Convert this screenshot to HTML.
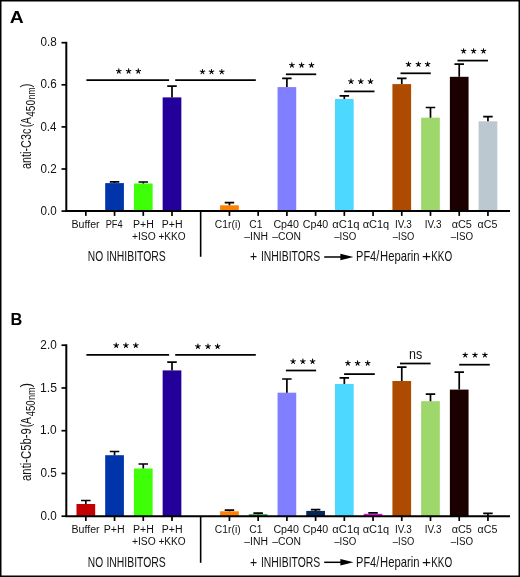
<!DOCTYPE html><html><head><meta charset="utf-8"><style>
html,body{margin:0;padding:0;background:#fff;}
svg{display:block;will-change:transform;}
text{font-family:"Liberation Sans",sans-serif;fill:#111;}
.tk{font-size:12.4px;}
.xl{font-size:10px;}
.gl{font-size:14.8px;}
.pl{font-size:17.4px;font-weight:bold;fill:#000;}
.yl{font-size:15.5px;}
.ys{font-size:11.5px;}
.yd{font-size:12.4px;}
.ns{font-size:14.5px;}
</style></head><body><svg width="520" height="577" viewBox="0 0 520 577"><rect x="0" y="0" width="520" height="577" fill="#000"/>
<rect x="1.5" y="1.5" width="517" height="574" fill="#fff"/>
<text x="9.7" y="22.8" class="pl" textLength="14.0" lengthAdjust="spacingAndGlyphs">A</text>
<rect x="105.20" y="183.10" width="18.70" height="28.00" fill="#0034aa"/>
<path d="M114.55 183.10L114.55 181.80M109.80 181.80L119.30 181.80" stroke="#000" stroke-width="1.7" fill="none"/>
<rect x="133.93" y="183.50" width="18.70" height="27.60" fill="#3eff08"/>
<path d="M143.28 183.50L143.28 182.00M138.53 182.00L148.03 182.00" stroke="#000" stroke-width="1.7" fill="none"/>
<rect x="162.65" y="97.40" width="18.70" height="113.70" fill="#220099"/>
<path d="M172.00 97.40L172.00 86.20M167.25 86.20L176.75 86.20" stroke="#000" stroke-width="1.7" fill="none"/>
<rect x="220.09" y="205.30" width="18.70" height="5.80" fill="#ff7f00"/>
<path d="M229.44 205.30L229.44 202.70M224.69 202.70L234.19 202.70" stroke="#000" stroke-width="1.7" fill="none"/>
<rect x="277.54" y="87.10" width="18.70" height="124.00" fill="#7f7fff"/>
<path d="M286.89 87.10L286.89 78.40M282.14 78.40L291.64 78.40" stroke="#000" stroke-width="1.7" fill="none"/>
<rect x="334.98" y="99.00" width="18.70" height="112.10" fill="#4dd8ff"/>
<path d="M344.33 99.00L344.33 95.90M339.58 95.90L349.08 95.90" stroke="#000" stroke-width="1.7" fill="none"/>
<rect x="392.42" y="84.10" width="18.70" height="127.00" fill="#ad4b00"/>
<path d="M401.77 84.10L401.77 78.40M397.02 78.40L406.52 78.40" stroke="#000" stroke-width="1.7" fill="none"/>
<rect x="421.14" y="117.70" width="18.70" height="93.40" fill="#9ed86c"/>
<path d="M430.49 117.70L430.49 107.50M425.74 107.50L435.24 107.50" stroke="#000" stroke-width="1.7" fill="none"/>
<rect x="449.87" y="76.80" width="18.70" height="134.30" fill="#1a0000"/>
<path d="M459.22 76.80L459.22 64.20M454.47 64.20L463.97 64.20" stroke="#000" stroke-width="1.7" fill="none"/>
<rect x="478.59" y="121.30" width="18.70" height="89.80" fill="#bcc8d0"/>
<path d="M487.94 121.30L487.94 116.70M483.19 116.70L492.69 116.70" stroke="#000" stroke-width="1.7" fill="none"/>
<line x1="86.40" y1="80.20" x2="169.10" y2="80.20" stroke="#000" stroke-width="1.75"/>
<path d="M118.80 71.20L118.80 68.80M118.80 71.20L121.08 70.46M118.80 71.20L120.21 73.14M118.80 71.20L117.39 73.14M118.80 71.20L116.52 70.46" stroke="#000" stroke-width="1.05" fill="none" stroke-linecap="round"/><circle cx="118.80" cy="71.35" r="0.9" fill="#000"/>
<path d="M128.60 71.20L128.60 68.80M128.60 71.20L130.88 70.46M128.60 71.20L130.01 73.14M128.60 71.20L127.19 73.14M128.60 71.20L126.32 70.46" stroke="#000" stroke-width="1.05" fill="none" stroke-linecap="round"/><circle cx="128.60" cy="71.35" r="0.9" fill="#000"/>
<path d="M138.30 71.20L138.30 68.80M138.30 71.20L140.58 70.46M138.30 71.20L139.71 73.14M138.30 71.20L136.89 73.14M138.30 71.20L136.02 70.46" stroke="#000" stroke-width="1.05" fill="none" stroke-linecap="round"/><circle cx="138.30" cy="71.35" r="0.9" fill="#000"/>
<line x1="175.20" y1="80.10" x2="255.80" y2="80.10" stroke="#000" stroke-width="1.75"/>
<path d="M202.50 71.80L202.50 69.40M202.50 71.80L204.78 71.06M202.50 71.80L203.91 73.74M202.50 71.80L201.09 73.74M202.50 71.80L200.22 71.06" stroke="#000" stroke-width="1.05" fill="none" stroke-linecap="round"/><circle cx="202.50" cy="71.95" r="0.9" fill="#000"/>
<path d="M211.50 71.80L211.50 69.40M211.50 71.80L213.78 71.06M211.50 71.80L212.91 73.74M211.50 71.80L210.09 73.74M211.50 71.80L209.22 71.06" stroke="#000" stroke-width="1.05" fill="none" stroke-linecap="round"/><circle cx="211.50" cy="71.95" r="0.9" fill="#000"/>
<path d="M221.80 71.80L221.80 69.40M221.80 71.80L224.08 71.06M221.80 71.80L223.21 73.74M221.80 71.80L220.39 73.74M221.80 71.80L219.52 71.06" stroke="#000" stroke-width="1.05" fill="none" stroke-linecap="round"/><circle cx="221.80" cy="71.95" r="0.9" fill="#000"/>
<line x1="285.90" y1="74.30" x2="316.20" y2="74.30" stroke="#000" stroke-width="1.75"/>
<path d="M291.90 65.15L291.90 62.75M291.90 65.15L294.18 64.41M291.90 65.15L293.31 67.09M291.90 65.15L290.49 67.09M291.90 65.15L289.62 64.41" stroke="#000" stroke-width="1.05" fill="none" stroke-linecap="round"/><circle cx="291.90" cy="65.30" r="0.9" fill="#000"/>
<path d="M301.60 65.15L301.60 62.75M301.60 65.15L303.88 64.41M301.60 65.15L303.01 67.09M301.60 65.15L300.19 67.09M301.60 65.15L299.32 64.41" stroke="#000" stroke-width="1.05" fill="none" stroke-linecap="round"/><circle cx="301.60" cy="65.30" r="0.9" fill="#000"/>
<path d="M311.50 65.15L311.50 62.75M311.50 65.15L313.78 64.41M311.50 65.15L312.91 67.09M311.50 65.15L310.09 67.09M311.50 65.15L309.22 64.41" stroke="#000" stroke-width="1.05" fill="none" stroke-linecap="round"/><circle cx="311.50" cy="65.30" r="0.9" fill="#000"/>
<line x1="344.20" y1="91.40" x2="374.50" y2="91.40" stroke="#000" stroke-width="1.75"/>
<path d="M351.00 81.40L351.00 79.00M351.00 81.40L353.28 80.66M351.00 81.40L352.41 83.34M351.00 81.40L349.59 83.34M351.00 81.40L348.72 80.66" stroke="#000" stroke-width="1.05" fill="none" stroke-linecap="round"/><circle cx="351.00" cy="81.55" r="0.9" fill="#000"/>
<path d="M360.80 81.40L360.80 79.00M360.80 81.40L363.08 80.66M360.80 81.40L362.21 83.34M360.80 81.40L359.39 83.34M360.80 81.40L358.52 80.66" stroke="#000" stroke-width="1.05" fill="none" stroke-linecap="round"/><circle cx="360.80" cy="81.55" r="0.9" fill="#000"/>
<path d="M370.50 81.40L370.50 79.00M370.50 81.40L372.78 80.66M370.50 81.40L371.91 83.34M370.50 81.40L369.09 83.34M370.50 81.40L368.22 80.66" stroke="#000" stroke-width="1.05" fill="none" stroke-linecap="round"/><circle cx="370.50" cy="81.55" r="0.9" fill="#000"/>
<line x1="400.50" y1="73.30" x2="430.80" y2="73.30" stroke="#000" stroke-width="1.75"/>
<path d="M408.50 64.30L408.50 61.90M408.50 64.30L410.78 63.56M408.50 64.30L409.91 66.24M408.50 64.30L407.09 66.24M408.50 64.30L406.22 63.56" stroke="#000" stroke-width="1.05" fill="none" stroke-linecap="round"/><circle cx="408.50" cy="64.45" r="0.9" fill="#000"/>
<path d="M418.40 64.30L418.40 61.90M418.40 64.30L420.68 63.56M418.40 64.30L419.81 66.24M418.40 64.30L416.99 66.24M418.40 64.30L416.12 63.56" stroke="#000" stroke-width="1.05" fill="none" stroke-linecap="round"/><circle cx="418.40" cy="64.45" r="0.9" fill="#000"/>
<path d="M427.60 64.30L427.60 61.90M427.60 64.30L429.88 63.56M427.60 64.30L429.01 66.24M427.60 64.30L426.19 66.24M427.60 64.30L425.32 63.56" stroke="#000" stroke-width="1.05" fill="none" stroke-linecap="round"/><circle cx="427.60" cy="64.45" r="0.9" fill="#000"/>
<line x1="457.50" y1="60.60" x2="488.00" y2="60.60" stroke="#000" stroke-width="1.75"/>
<path d="M463.60 51.10L463.60 48.70M463.60 51.10L465.88 50.36M463.60 51.10L465.01 53.04M463.60 51.10L462.19 53.04M463.60 51.10L461.32 50.36" stroke="#000" stroke-width="1.05" fill="none" stroke-linecap="round"/><circle cx="463.60" cy="51.25" r="0.9" fill="#000"/>
<path d="M473.60 51.10L473.60 48.70M473.60 51.10L475.88 50.36M473.60 51.10L475.01 53.04M473.60 51.10L472.19 53.04M473.60 51.10L471.32 50.36" stroke="#000" stroke-width="1.05" fill="none" stroke-linecap="round"/><circle cx="473.60" cy="51.25" r="0.9" fill="#000"/>
<path d="M483.50 51.10L483.50 48.70M483.50 51.10L485.78 50.36M483.50 51.10L484.91 53.04M483.50 51.10L482.09 53.04M483.50 51.10L481.22 50.36" stroke="#000" stroke-width="1.05" fill="none" stroke-linecap="round"/><circle cx="483.50" cy="51.25" r="0.9" fill="#000"/>
<text id="abuf" x="71.50" y="227.60" class="xl" textLength="28.10" lengthAdjust="spacingAndGlyphs">Buffer</text>
<text id="apf4" x="105.69" y="227.60" class="xl" textLength="16.97" lengthAdjust="spacingAndGlyphs">PF4</text>
<text id="aph2" x="133.05" y="227.60" class="xl" textLength="20.82" lengthAdjust="spacingAndGlyphs">P+H</text>
<text id="aiso2" x="131.91" y="239.90" class="xl" textLength="23.73" lengthAdjust="spacingAndGlyphs">+ISO</text>
<text id="aph3" x="161.82" y="227.60" class="xl" textLength="20.80" lengthAdjust="spacingAndGlyphs">P+H</text>
<text id="akko3" x="158.46" y="239.90" class="xl" textLength="27.24" lengthAdjust="spacingAndGlyphs">+KKO</text>
<text id="ac1r" x="214.87" y="227.60" class="xl" textLength="25.74" lengthAdjust="spacingAndGlyphs">C1r(i)</text>
<text id="ac1" x="249.34" y="227.60" class="xl" textLength="13.08" lengthAdjust="spacingAndGlyphs">C1</text>
<text id="ainh" x="244.21" y="239.90" class="xl" textLength="23.74" lengthAdjust="spacingAndGlyphs">–INH</text>
<text id="acp40c" x="273.43" y="227.60" class="xl" textLength="25.49" lengthAdjust="spacingAndGlyphs">Cp40</text>
<text id="acon" x="272.21" y="239.90" class="xl" textLength="28.75" lengthAdjust="spacingAndGlyphs">–CON</text>
<text id="acp40" x="302.80" y="227.60" class="xl" textLength="25.41" lengthAdjust="spacingAndGlyphs">Cp40</text>
<text id="ac1qi" x="332.33" y="227.60" class="xl" textLength="27.05" lengthAdjust="spacingAndGlyphs">αC1q</text>
<text id="aiso9" x="334.15" y="239.90" class="xl" textLength="22.13" lengthAdjust="spacingAndGlyphs">–ISO</text>
<text id="ac1q" x="362.71" y="227.60" class="xl" textLength="26.53" lengthAdjust="spacingAndGlyphs">αC1q</text>
<text id="aiv3i" x="394.99" y="227.60" class="xl" textLength="16.71" lengthAdjust="spacingAndGlyphs">IV.3</text>
<text id="aiso11" x="392.86" y="239.90" class="xl" textLength="21.34" lengthAdjust="spacingAndGlyphs">–ISO</text>
<text id="aiv3" x="424.81" y="227.60" class="xl" textLength="16.80" lengthAdjust="spacingAndGlyphs">IV.3</text>
<text id="ac5i" x="451.67" y="227.60" class="xl" textLength="20.23" lengthAdjust="spacingAndGlyphs">αC5</text>
<text id="aiso13" x="450.82" y="239.90" class="xl" textLength="22.30" lengthAdjust="spacingAndGlyphs">–ISO</text>
<text id="ac5" x="477.59" y="227.60" class="xl" textLength="19.79" lengthAdjust="spacingAndGlyphs">αC5</text>
<text id="ano" x="87.81" y="261.40" class="gl" textLength="15.31" lengthAdjust="spacingAndGlyphs">NO</text>
<text id="ainh1" x="106.38" y="261.40" class="gl" textLength="59.37" lengthAdjust="spacingAndGlyphs">INHIBITORS</text>
<text id="aplus" x="250.03" y="261.40" class="gl" textLength="7.15" lengthAdjust="spacingAndGlyphs">+</text>
<text id="ainh2" x="260.95" y="261.40" class="gl" textLength="59.25" lengthAdjust="spacingAndGlyphs">INHIBITORS</text>
<text id="apf" x="356.07" y="261.40" class="gl" textLength="23.23" lengthAdjust="spacingAndGlyphs">PF4/</text>
<text id="ahep" x="380.02" y="261.40" class="gl" textLength="39.46" lengthAdjust="spacingAndGlyphs">Heparin</text>
<text id="apk" x="422.10" y="261.40" class="gl" textLength="9.04" lengthAdjust="spacingAndGlyphs">+</text>
<text id="akko" x="431.21" y="261.40" class="gl" textLength="20.94" lengthAdjust="spacingAndGlyphs">KKO</text>
<line x1="324.2" y1="257.00" x2="342" y2="257.00" stroke="#000" stroke-width="1.5"/>
<path d="M340.4 253.80L353.5 257.00L340.4 260.30Z" fill="#000"/>
<line x1="66.30" y1="41.80" x2="66.30" y2="211.10" stroke="#000" stroke-width="2"/>
<line x1="61.5" y1="42.70" x2="66.30" y2="42.70" stroke="#000" stroke-width="1.7"/>
<text id="t42" x="40.56" y="46.30" class="tk" textLength="16.24" lengthAdjust="spacingAndGlyphs">0.8</text>
<line x1="61.5" y1="84.80" x2="66.30" y2="84.80" stroke="#000" stroke-width="1.7"/>
<text id="t84" x="40.48" y="88.40" class="tk" textLength="16.23" lengthAdjust="spacingAndGlyphs">0.6</text>
<line x1="61.5" y1="126.90" x2="66.30" y2="126.90" stroke="#000" stroke-width="1.7"/>
<text id="t126" x="40.48" y="130.50" class="tk" textLength="16.00" lengthAdjust="spacingAndGlyphs">0.4</text>
<line x1="61.5" y1="169.00" x2="66.30" y2="169.00" stroke="#000" stroke-width="1.7"/>
<text id="t169" x="40.48" y="172.60" class="tk" textLength="16.23" lengthAdjust="spacingAndGlyphs">0.2</text>
<line x1="61.5" y1="211.10" x2="66.30" y2="211.10" stroke="#000" stroke-width="1.7"/>
<text id="t211" x="40.50" y="214.70" class="tk" textLength="16.22" lengthAdjust="spacingAndGlyphs">0.0</text>
<line x1="65.30" y1="211.10" x2="510" y2="211.10" stroke="#000" stroke-width="2"/>
<line x1="85.83" y1="211.10" x2="85.83" y2="215.90" stroke="#000" stroke-width="1.7"/>
<line x1="114.55" y1="211.10" x2="114.55" y2="215.90" stroke="#000" stroke-width="1.7"/>
<line x1="143.28" y1="211.10" x2="143.28" y2="215.90" stroke="#000" stroke-width="1.7"/>
<line x1="172.00" y1="211.10" x2="172.00" y2="215.90" stroke="#000" stroke-width="1.7"/>
<line x1="229.44" y1="211.10" x2="229.44" y2="215.90" stroke="#000" stroke-width="1.7"/>
<line x1="258.16" y1="211.10" x2="258.16" y2="215.90" stroke="#000" stroke-width="1.7"/>
<line x1="286.89" y1="211.10" x2="286.89" y2="215.90" stroke="#000" stroke-width="1.7"/>
<line x1="315.61" y1="211.10" x2="315.61" y2="215.90" stroke="#000" stroke-width="1.7"/>
<line x1="344.33" y1="211.10" x2="344.33" y2="215.90" stroke="#000" stroke-width="1.7"/>
<line x1="373.05" y1="211.10" x2="373.05" y2="215.90" stroke="#000" stroke-width="1.7"/>
<line x1="401.77" y1="211.10" x2="401.77" y2="215.90" stroke="#000" stroke-width="1.7"/>
<line x1="430.49" y1="211.10" x2="430.49" y2="215.90" stroke="#000" stroke-width="1.7"/>
<line x1="459.22" y1="211.10" x2="459.22" y2="215.90" stroke="#000" stroke-width="1.7"/>
<line x1="487.94" y1="211.10" x2="487.94" y2="215.90" stroke="#000" stroke-width="1.7"/>
<line x1="200.65" y1="211.10" x2="200.65" y2="256.80" stroke="#000" stroke-width="1.6"/>
<text x="10.4" y="324.6" class="pl" textLength="11.8" lengthAdjust="spacingAndGlyphs">B</text>
<rect x="76.48" y="504.00" width="18.70" height="12.20" fill="#c50000"/>
<path d="M85.83 504.00L85.83 500.50M81.08 500.50L90.58 500.50" stroke="#000" stroke-width="1.7" fill="none"/>
<rect x="105.20" y="455.20" width="18.70" height="61.00" fill="#0034aa"/>
<path d="M114.55 455.20L114.55 451.50M109.80 451.50L119.30 451.50" stroke="#000" stroke-width="1.7" fill="none"/>
<rect x="133.93" y="468.50" width="18.70" height="47.70" fill="#3eff08"/>
<path d="M143.28 468.50L143.28 464.00M138.53 464.00L148.03 464.00" stroke="#000" stroke-width="1.7" fill="none"/>
<rect x="162.65" y="370.40" width="18.70" height="145.80" fill="#220099"/>
<path d="M172.00 370.40L172.00 362.20M167.25 362.20L176.75 362.20" stroke="#000" stroke-width="1.7" fill="none"/>
<rect x="220.09" y="511.30" width="18.70" height="4.90" fill="#ff7f00"/>
<path d="M229.44 511.30L229.44 510.20M224.69 510.20L234.19 510.20" stroke="#000" stroke-width="1.7" fill="none"/>
<rect x="248.81" y="514.20" width="18.70" height="2.00" fill="#339933"/>
<path d="M258.16 514.20L258.16 513.10M253.41 513.10L262.91 513.10" stroke="#000" stroke-width="1.7" fill="none"/>
<rect x="277.54" y="392.70" width="18.70" height="123.50" fill="#7f7fff"/>
<path d="M286.89 392.70L286.89 379.00M282.14 379.00L291.64 379.00" stroke="#000" stroke-width="1.7" fill="none"/>
<rect x="306.26" y="510.90" width="18.70" height="5.30" fill="#072555"/>
<path d="M315.61 510.90L315.61 509.70M310.86 509.70L320.36 509.70" stroke="#000" stroke-width="1.7" fill="none"/>
<rect x="334.98" y="384.00" width="18.70" height="132.20" fill="#4dd8ff"/>
<path d="M344.33 384.00L344.33 377.90M339.58 377.90L349.08 377.90" stroke="#000" stroke-width="1.7" fill="none"/>
<rect x="363.70" y="513.80" width="18.70" height="2.40" fill="#e600e6"/>
<path d="M373.05 513.80L373.05 512.90M368.30 512.90L377.80 512.90" stroke="#000" stroke-width="1.7" fill="none"/>
<rect x="392.42" y="381.00" width="18.70" height="135.20" fill="#ad4b00"/>
<path d="M401.77 381.00L401.77 367.10M397.02 367.10L406.52 367.10" stroke="#000" stroke-width="1.7" fill="none"/>
<rect x="421.14" y="401.20" width="18.70" height="115.00" fill="#9ed86c"/>
<path d="M430.49 401.20L430.49 394.20M425.74 394.20L435.24 394.20" stroke="#000" stroke-width="1.7" fill="none"/>
<rect x="449.87" y="389.60" width="18.70" height="126.60" fill="#1a0000"/>
<path d="M459.22 389.60L459.22 372.20M454.47 372.20L463.97 372.20" stroke="#000" stroke-width="1.7" fill="none"/>
<rect x="478.59" y="516.20" width="18.70" height="0.00" fill="#bcc8d0"/>
<path d="M487.94 516.20L487.94 513.40M483.19 513.40L492.69 513.40" stroke="#000" stroke-width="1.7" fill="none"/>
<line x1="86.40" y1="354.90" x2="169.10" y2="354.90" stroke="#000" stroke-width="1.75"/>
<path d="M116.20 345.40L116.20 343.00M116.20 345.40L118.48 344.66M116.20 345.40L117.61 347.34M116.20 345.40L114.79 347.34M116.20 345.40L113.92 344.66" stroke="#000" stroke-width="1.05" fill="none" stroke-linecap="round"/><circle cx="116.20" cy="345.55" r="0.9" fill="#000"/>
<path d="M125.90 345.40L125.90 343.00M125.90 345.40L128.18 344.66M125.90 345.40L127.31 347.34M125.90 345.40L124.49 347.34M125.90 345.40L123.62 344.66" stroke="#000" stroke-width="1.05" fill="none" stroke-linecap="round"/><circle cx="125.90" cy="345.55" r="0.9" fill="#000"/>
<path d="M135.80 345.40L135.80 343.00M135.80 345.40L138.08 344.66M135.80 345.40L137.21 347.34M135.80 345.40L134.39 347.34M135.80 345.40L133.52 344.66" stroke="#000" stroke-width="1.05" fill="none" stroke-linecap="round"/><circle cx="135.80" cy="345.55" r="0.9" fill="#000"/>
<line x1="175.20" y1="354.90" x2="255.80" y2="354.90" stroke="#000" stroke-width="1.75"/>
<path d="M197.90 346.40L197.90 344.00M197.90 346.40L200.18 345.66M197.90 346.40L199.31 348.34M197.90 346.40L196.49 348.34M197.90 346.40L195.62 345.66" stroke="#000" stroke-width="1.05" fill="none" stroke-linecap="round"/><circle cx="197.90" cy="346.55" r="0.9" fill="#000"/>
<path d="M208.00 346.40L208.00 344.00M208.00 346.40L210.28 345.66M208.00 346.40L209.41 348.34M208.00 346.40L206.59 348.34M208.00 346.40L205.72 345.66" stroke="#000" stroke-width="1.05" fill="none" stroke-linecap="round"/><circle cx="208.00" cy="346.55" r="0.9" fill="#000"/>
<path d="M217.60 346.40L217.60 344.00M217.60 346.40L219.88 345.66M217.60 346.40L219.01 348.34M217.60 346.40L216.19 348.34M217.60 346.40L215.32 345.66" stroke="#000" stroke-width="1.05" fill="none" stroke-linecap="round"/><circle cx="217.60" cy="346.55" r="0.9" fill="#000"/>
<line x1="285.90" y1="370.50" x2="316.10" y2="370.50" stroke="#000" stroke-width="1.75"/>
<path d="M293.10 361.50L293.10 359.10M293.10 361.50L295.38 360.76M293.10 361.50L294.51 363.44M293.10 361.50L291.69 363.44M293.10 361.50L290.82 360.76" stroke="#000" stroke-width="1.05" fill="none" stroke-linecap="round"/><circle cx="293.10" cy="361.65" r="0.9" fill="#000"/>
<path d="M302.90 361.50L302.90 359.10M302.90 361.50L305.18 360.76M302.90 361.50L304.31 363.44M302.90 361.50L301.49 363.44M302.90 361.50L300.62 360.76" stroke="#000" stroke-width="1.05" fill="none" stroke-linecap="round"/><circle cx="302.90" cy="361.65" r="0.9" fill="#000"/>
<path d="M312.60 361.50L312.60 359.10M312.60 361.50L314.88 360.76M312.60 361.50L314.01 363.44M312.60 361.50L311.19 363.44M312.60 361.50L310.32 360.76" stroke="#000" stroke-width="1.05" fill="none" stroke-linecap="round"/><circle cx="312.60" cy="361.65" r="0.9" fill="#000"/>
<line x1="344.10" y1="374.10" x2="374.80" y2="374.10" stroke="#000" stroke-width="1.75"/>
<path d="M347.90 363.20L347.90 360.80M347.90 363.20L350.18 362.46M347.90 363.20L349.31 365.14M347.90 363.20L346.49 365.14M347.90 363.20L345.62 362.46" stroke="#000" stroke-width="1.05" fill="none" stroke-linecap="round"/><circle cx="347.90" cy="363.35" r="0.9" fill="#000"/>
<path d="M357.60 363.20L357.60 360.80M357.60 363.20L359.88 362.46M357.60 363.20L359.01 365.14M357.60 363.20L356.19 365.14M357.60 363.20L355.32 362.46" stroke="#000" stroke-width="1.05" fill="none" stroke-linecap="round"/><circle cx="357.60" cy="363.35" r="0.9" fill="#000"/>
<path d="M367.70 363.20L367.70 360.80M367.70 363.20L369.98 362.46M367.70 363.20L369.11 365.14M367.70 363.20L366.29 365.14M367.70 363.20L365.42 362.46" stroke="#000" stroke-width="1.05" fill="none" stroke-linecap="round"/><circle cx="367.70" cy="363.35" r="0.9" fill="#000"/>
<line x1="400.00" y1="363.50" x2="430.60" y2="363.50" stroke="#000" stroke-width="1.75"/>
<text x="409" y="358.8" class="ns" textLength="13.2" lengthAdjust="spacingAndGlyphs">ns</text>
<line x1="459.20" y1="364.70" x2="489.80" y2="364.70" stroke="#000" stroke-width="1.75"/>
<path d="M465.20 355.10L465.20 352.70M465.20 355.10L467.48 354.36M465.20 355.10L466.61 357.04M465.20 355.10L463.79 357.04M465.20 355.10L462.92 354.36" stroke="#000" stroke-width="1.05" fill="none" stroke-linecap="round"/><circle cx="465.20" cy="355.25" r="0.9" fill="#000"/>
<path d="M475.00 355.10L475.00 352.70M475.00 355.10L477.28 354.36M475.00 355.10L476.41 357.04M475.00 355.10L473.59 357.04M475.00 355.10L472.72 354.36" stroke="#000" stroke-width="1.05" fill="none" stroke-linecap="round"/><circle cx="475.00" cy="355.25" r="0.9" fill="#000"/>
<path d="M484.90 355.10L484.90 352.70M484.90 355.10L487.18 354.36M484.90 355.10L486.31 357.04M484.90 355.10L483.49 357.04M484.90 355.10L482.62 354.36" stroke="#000" stroke-width="1.05" fill="none" stroke-linecap="round"/><circle cx="484.90" cy="355.25" r="0.9" fill="#000"/>
<text id="bbuf" x="71.50" y="532.90" class="xl" textLength="28.10" lengthAdjust="spacingAndGlyphs">Buffer</text>
<text id="bpf4" x="103.70" y="532.90" class="xl" textLength="20.97" lengthAdjust="spacingAndGlyphs">P+H</text>
<text id="bph2" x="133.05" y="532.90" class="xl" textLength="20.82" lengthAdjust="spacingAndGlyphs">P+H</text>
<text id="biso2" x="131.91" y="545.20" class="xl" textLength="23.73" lengthAdjust="spacingAndGlyphs">+ISO</text>
<text id="bph3" x="161.82" y="532.90" class="xl" textLength="20.80" lengthAdjust="spacingAndGlyphs">P+H</text>
<text id="bkko3" x="158.46" y="545.20" class="xl" textLength="27.24" lengthAdjust="spacingAndGlyphs">+KKO</text>
<text id="bc1r" x="214.87" y="532.90" class="xl" textLength="25.74" lengthAdjust="spacingAndGlyphs">C1r(i)</text>
<text id="bc1" x="249.34" y="532.90" class="xl" textLength="13.08" lengthAdjust="spacingAndGlyphs">C1</text>
<text id="binh" x="244.21" y="545.20" class="xl" textLength="23.74" lengthAdjust="spacingAndGlyphs">–INH</text>
<text id="bcp40c" x="273.43" y="532.90" class="xl" textLength="25.49" lengthAdjust="spacingAndGlyphs">Cp40</text>
<text id="bcon" x="272.21" y="545.20" class="xl" textLength="28.75" lengthAdjust="spacingAndGlyphs">–CON</text>
<text id="bcp40" x="302.80" y="532.90" class="xl" textLength="25.41" lengthAdjust="spacingAndGlyphs">Cp40</text>
<text id="bc1qi" x="332.33" y="532.90" class="xl" textLength="27.05" lengthAdjust="spacingAndGlyphs">αC1q</text>
<text id="biso9" x="334.15" y="545.20" class="xl" textLength="22.13" lengthAdjust="spacingAndGlyphs">–ISO</text>
<text id="bc1q" x="362.71" y="532.90" class="xl" textLength="26.53" lengthAdjust="spacingAndGlyphs">αC1q</text>
<text id="biv3i" x="394.99" y="532.90" class="xl" textLength="16.71" lengthAdjust="spacingAndGlyphs">IV.3</text>
<text id="biso11" x="392.86" y="545.20" class="xl" textLength="21.34" lengthAdjust="spacingAndGlyphs">–ISO</text>
<text id="biv3" x="424.81" y="532.90" class="xl" textLength="16.80" lengthAdjust="spacingAndGlyphs">IV.3</text>
<text id="bc5i" x="451.67" y="532.90" class="xl" textLength="20.23" lengthAdjust="spacingAndGlyphs">αC5</text>
<text id="biso13" x="450.82" y="545.20" class="xl" textLength="22.30" lengthAdjust="spacingAndGlyphs">–ISO</text>
<text id="bc5" x="477.59" y="532.90" class="xl" textLength="19.79" lengthAdjust="spacingAndGlyphs">αC5</text>
<text id="bno" x="87.81" y="566.70" class="gl" textLength="15.31" lengthAdjust="spacingAndGlyphs">NO</text>
<text id="binh1" x="106.38" y="566.70" class="gl" textLength="59.37" lengthAdjust="spacingAndGlyphs">INHIBITORS</text>
<text id="bplus" x="250.03" y="566.70" class="gl" textLength="7.15" lengthAdjust="spacingAndGlyphs">+</text>
<text id="binh2" x="260.95" y="566.70" class="gl" textLength="59.25" lengthAdjust="spacingAndGlyphs">INHIBITORS</text>
<text id="bpf" x="356.07" y="566.70" class="gl" textLength="23.23" lengthAdjust="spacingAndGlyphs">PF4/</text>
<text id="bhep" x="380.02" y="566.70" class="gl" textLength="39.46" lengthAdjust="spacingAndGlyphs">Heparin</text>
<text id="bpk" x="422.10" y="566.70" class="gl" textLength="9.04" lengthAdjust="spacingAndGlyphs">+</text>
<text id="bkko" x="431.21" y="566.70" class="gl" textLength="20.94" lengthAdjust="spacingAndGlyphs">KKO</text>
<line x1="324.2" y1="562.30" x2="342" y2="562.30" stroke="#000" stroke-width="1.5"/>
<path d="M340.4 559.10L353.5 562.30L340.4 565.60Z" fill="#000"/>
<line x1="66.30" y1="344.30" x2="66.30" y2="516.20" stroke="#000" stroke-width="2"/>
<line x1="61.5" y1="345.20" x2="66.30" y2="345.20" stroke="#000" stroke-width="1.7"/>
<text id="t345" x="40.35" y="348.80" class="tk" textLength="16.36" lengthAdjust="spacingAndGlyphs">2.0</text>
<line x1="61.5" y1="387.95" x2="66.30" y2="387.95" stroke="#000" stroke-width="1.7"/>
<text id="t387" x="40.02" y="391.55" class="tk" textLength="17.01" lengthAdjust="spacingAndGlyphs">1.5</text>
<line x1="61.5" y1="430.70" x2="66.30" y2="430.70" stroke="#000" stroke-width="1.7"/>
<text id="t430" x="40.12" y="434.30" class="tk" textLength="16.62" lengthAdjust="spacingAndGlyphs">1.0</text>
<line x1="61.5" y1="473.45" x2="66.30" y2="473.45" stroke="#000" stroke-width="1.7"/>
<text id="t473" x="40.50" y="477.05" class="tk" textLength="16.32" lengthAdjust="spacingAndGlyphs">0.5</text>
<line x1="61.5" y1="516.20" x2="66.30" y2="516.20" stroke="#000" stroke-width="1.7"/>
<text id="t516" x="40.50" y="519.80" class="tk" textLength="16.22" lengthAdjust="spacingAndGlyphs">0.0</text>
<line x1="65.30" y1="516.20" x2="510" y2="516.20" stroke="#000" stroke-width="2"/>
<line x1="85.83" y1="516.20" x2="85.83" y2="521.00" stroke="#000" stroke-width="1.7"/>
<line x1="114.55" y1="516.20" x2="114.55" y2="521.00" stroke="#000" stroke-width="1.7"/>
<line x1="143.28" y1="516.20" x2="143.28" y2="521.00" stroke="#000" stroke-width="1.7"/>
<line x1="172.00" y1="516.20" x2="172.00" y2="521.00" stroke="#000" stroke-width="1.7"/>
<line x1="229.44" y1="516.20" x2="229.44" y2="521.00" stroke="#000" stroke-width="1.7"/>
<line x1="258.16" y1="516.20" x2="258.16" y2="521.00" stroke="#000" stroke-width="1.7"/>
<line x1="286.89" y1="516.20" x2="286.89" y2="521.00" stroke="#000" stroke-width="1.7"/>
<line x1="315.61" y1="516.20" x2="315.61" y2="521.00" stroke="#000" stroke-width="1.7"/>
<line x1="344.33" y1="516.20" x2="344.33" y2="521.00" stroke="#000" stroke-width="1.7"/>
<line x1="373.05" y1="516.20" x2="373.05" y2="521.00" stroke="#000" stroke-width="1.7"/>
<line x1="401.77" y1="516.20" x2="401.77" y2="521.00" stroke="#000" stroke-width="1.7"/>
<line x1="430.49" y1="516.20" x2="430.49" y2="521.00" stroke="#000" stroke-width="1.7"/>
<line x1="459.22" y1="516.20" x2="459.22" y2="521.00" stroke="#000" stroke-width="1.7"/>
<line x1="487.94" y1="516.20" x2="487.94" y2="521.00" stroke="#000" stroke-width="1.7"/>
<line x1="200.65" y1="516.20" x2="200.65" y2="562.80" stroke="#000" stroke-width="1.6"/>
<g transform="rotate(-90)">
<text id="ya1" x="-168.89" y="31.10" class="yl" textLength="40.18" lengthAdjust="spacingAndGlyphs">anti-C3c</text>
<text id="ya2" x="-127.35" y="31.10" class="yl" textLength="10.21" lengthAdjust="spacingAndGlyphs">(A</text>
<text id="yas" x="-116.87" y="35.20" class="yd" textLength="16.92" lengthAdjust="spacingAndGlyphs">450</text>
<text id="yan" x="-99.31" y="35.20" class="ys" textLength="11.83" lengthAdjust="spacingAndGlyphs">nm</text>
<text id="yap" x="-87.57" y="31.10" class="yl" textLength="4.05" lengthAdjust="spacingAndGlyphs">)</text>
<text id="yb1" x="-480.92" y="31.10" class="yl" textLength="52.70" lengthAdjust="spacingAndGlyphs">anti-C5b-9</text>
<text id="yb2" x="-427.29" y="31.10" class="yl" textLength="10.17" lengthAdjust="spacingAndGlyphs">(A</text>
<text id="ybs" x="-416.32" y="35.20" class="yd" textLength="15.92" lengthAdjust="spacingAndGlyphs">450</text>
<text id="ybn" x="-400.01" y="35.20" class="ys" textLength="12.67" lengthAdjust="spacingAndGlyphs">nm</text>
<text id="ybp" x="-387.50" y="31.10" class="yl" textLength="4.66" lengthAdjust="spacingAndGlyphs">)</text>
</g></svg></body></html>
